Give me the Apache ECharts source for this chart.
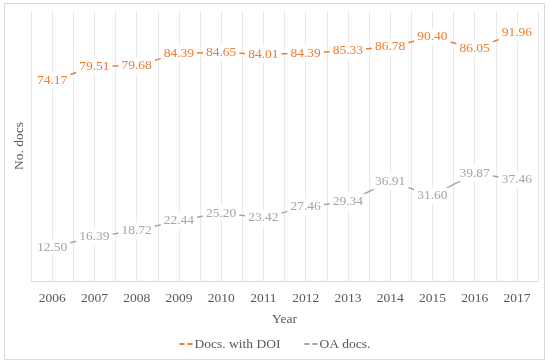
<!DOCTYPE html>
<html><head><meta charset="utf-8">
<script src="https://cdn.jsdelivr.net/npm/echarts@6/dist/echarts.min.js"></script>
<style>html,body{margin:0;padding:0;background:#fff}#c{width:550px;height:363px}</style>
</head><body><div id="c"></div>
<script>
var years = ['2006','2007','2008','2009','2010','2011','2012','2013','2014','2015','2016','2017'];
var docsWithDOI = [74.17,79.51,79.68,84.39,84.65,84.01,84.39,85.33,86.78,90.40,86.05,91.96];
var oaDocs = [12.50,16.39,18.72,22.44,25.20,23.42,27.46,29.34,36.91,31.60,39.87,37.46];
var FONT = '"Liberation Serif", "DejaVu Serif", serif';
var chart = echarts.init(document.getElementById('c'));
function ser(name, data, color){
  return {
    name: name, type: 'line', data: data, xAxisIndex: 0, yAxisIndex: 0,
    symbol: 'circle', symbolSize: 0, showSymbol: true,
    itemStyle: {color: color},
    lineStyle: {color: color, width: 1.5, type: 'solid'},
    label: {show: true, position: 'inside', color: color, fontFamily: FONT, fontSize: 13.5,
      backgroundColor: '#fff', padding: [1,3],
      formatter: function(p){ return p.value.toFixed(2); }},
    emphasis: {disabled: true},
    animation: false
  };
}
var dashIcon = 'path://M0,0h5v2h-5zM8,0h5v2h-5z';
chart.setOption({
  animation: false,
  textStyle: {fontFamily: FONT},
  graphic: [{type:'rect', shape:{x:4.5,y:3.5,width:540,height:356}, style:{fill:'none', stroke:'#d9d9d9', lineWidth:1}, z:-10}],
  grid: {left: 31, right: 12, top: 11, bottom: 82},
  legend: {
    bottom: 7, left: 'center', itemWidth: 13, itemHeight: 2, itemGap: 24,
    textStyle: {fontFamily: FONT, fontSize: 13.5, color: '#595959', padding: [0,0,0,-3]},
    data: [
      {name:'Docs. with DOI', icon: dashIcon, itemStyle:{color:'#ED7D31'}},
      {name:'OA docs.', icon: dashIcon, itemStyle:{color:'#A5A5A5'}}
    ]
  },
  xAxis: [{
    type: 'category', data: years, boundaryGap: true,
    name: 'Year', nameLocation: 'middle', nameGap: 31,
    nameTextStyle: {fontFamily: FONT, fontSize: 13.5, color: '#595959'},
    axisLine: {lineStyle: {color: '#d9d9d9'}}, axisTick: {show: false},
    axisLabel: {fontFamily: FONT, fontSize: 13.5, color: '#595959', margin: 10},
    splitLine: {show: false}
  },{
    type: 'value', min: 0, max: 12, interval: 0.5, show: true,
    axisLine: {show:false}, axisTick: {show:false}, axisLabel: {show:false},
    splitLine: {show: true, lineStyle: {color: '#e9e9e9', width: 1}}
  }],
  yAxis: {
    type: 'value', min: 0, max: 100,
    name: 'No. docs', nameLocation: 'middle', nameGap: 5,
    nameTextStyle: {fontFamily: FONT, fontSize: 13.5, color: '#595959'},
    axisLine: {show:false}, axisTick: {show:false}, axisLabel: {show:false},
    splitLine: {show:false}
  },
  series: [ser('Docs. with DOI', docsWithDOI, '#ED7D31'), ser('OA docs.', oaDocs, '#A5A5A5')]
});
</script></body></html>
